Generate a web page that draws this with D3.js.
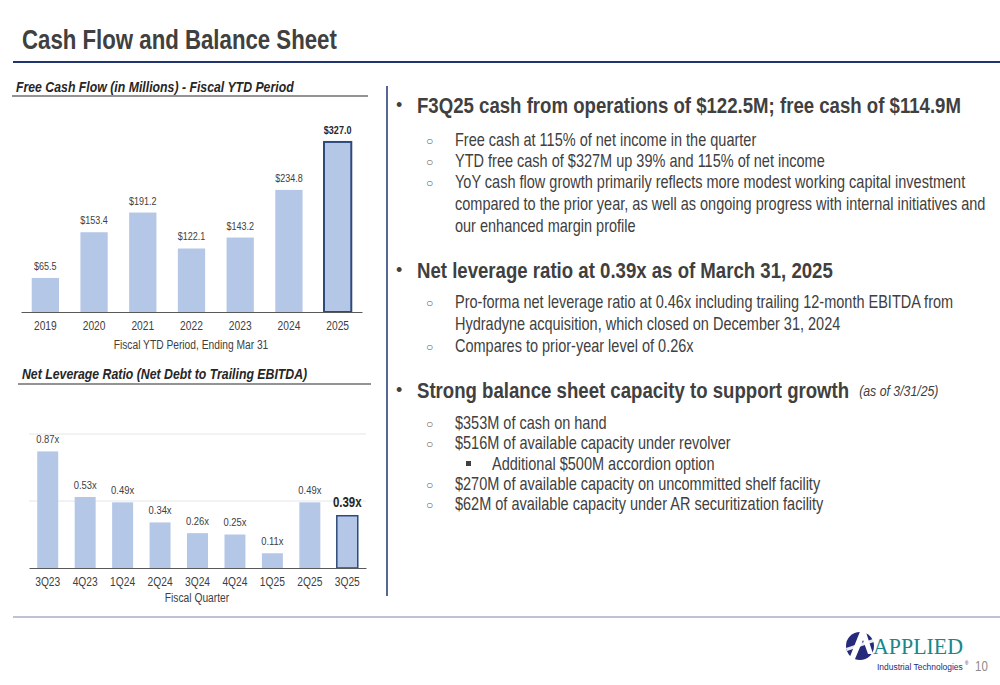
<!DOCTYPE html>
<html><head><meta charset="utf-8">
<script src="https://cdn.jsdelivr.net/npm/d3@7"></script>
<style>body{margin:0;background:#fff}svg{display:block}</style>
</head><body>
<svg id="s" width="1000" height="685"></svg>
<script>
const fcfYears = ["2019","2020","2021","2022","2023","2024","2025"];
const fcfValues = [65.5,153.4,191.2,122.1,143.2,234.8,327.0];
const fcfLabels = ["$65.5","$153.4","$191.2","$122.1","$143.2","$234.8","$327.0"];
const levQuarters = ["3Q23","4Q23","1Q24","2Q24","3Q24","4Q24","1Q25","2Q25","3Q25"];
const levValues = [0.87,0.53,0.49,0.34,0.26,0.25,0.11,0.49,0.39];
const levLabels = ["0.87x","0.53x","0.49x","0.34x","0.26x","0.25x","0.11x","0.49x","0.39x"];
const levGrid = [0.5,1.0];

const F = "'Liberation Sans','Arial',sans-serif";
const TXT = "#404040", BAR = "#b4c7e7", NAVY = "#1f3470", HL = "#2e4a7d";
const svg = d3.select("#s");

// condense text horizontally (Arial Narrow look) by scaling around its anchor point
function nar(sel, k){
  k = k || 0.82;
  sel.each(function(){
    const x = +this.getAttribute("x") || 0, y = +this.getAttribute("y") || 0;
    const prev = this.getAttribute("transform") || "";
    this.setAttribute("transform", prev + ` translate(${x},${y}) scale(${k},1) translate(${-x},${-y})`);
    this.__w = this.getComputedTextLength()*k;
  });
  return sel;
}

// Title
nar(svg.append("text").attr("x",22).attr("y",49).attr("font-family",F).attr("font-weight","bold")
  .attr("font-size",28.5).attr("fill",TXT).text("Cash Flow and Balance Sheet"),0.78);
svg.append("line").attr("x1",13).attr("x2",1000).attr("y1",62).attr("y2",62).attr("stroke",NAVY).attr("stroke-width",2);
// vertical separator
svg.append("line").attr("x1",387).attr("x2",387).attr("y1",86).attr("y2",596).attr("stroke",NAVY).attr("stroke-width",1.5);
// footer line
svg.append("line").attr("x1",13).attr("x2",1000).attr("y1",617).attr("y2",617).attr("stroke","#7a88aa").attr("stroke-width",1.2);

// ---- Chart 1
nar(svg.append("text").attr("x",16).attr("y",92).attr("font-family",F).attr("font-weight","bold").attr("font-style","italic")
  .attr("font-size",15).attr("fill","#262626").text("Free Cash Flow (in Millions) - Fiscal YTD Period"));
svg.append("line").attr("x1",12).attr("x2",368).attr("y1",96).attr("y2",96).attr("stroke","#262626").attr("stroke-width",1);

const x1 = d3.scaleBand().domain(fcfYears).range([21,362]).paddingInner(0.44).paddingOuter(0.22);
const y1 = d3.scaleLinear().domain([0,400]).range([312,104]);
const g1 = svg.append("g");
g1.selectAll("rect").data(fcfValues).join("rect")
  .attr("x",(d,i)=>x1(fcfYears[i])).attr("width",x1.bandwidth())
  .attr("y",d=>y1(d)).attr("height",d=>y1(0)-y1(d))
  .attr("fill",BAR)
  .attr("stroke",(d,i)=>i===fcfValues.length-1?HL:"none").attr("stroke-width",2);
nar(g1.selectAll("text.v").data(fcfValues).join("text").attr("class","v")
  .attr("x",(d,i)=>x1(fcfYears[i])+x1.bandwidth()/2).attr("y",d=>y1(d)-8)
  .attr("text-anchor","middle").attr("font-family",F).attr("font-size",11)
  .attr("font-weight",(d,i)=>i===fcfValues.length-1?"bold":"normal")
  .attr("fill",(d,i)=>i===fcfValues.length-1?"#262626":TXT).text((d,i)=>fcfLabels[i]));
const ax1 = g1.append("g").attr("transform","translate(0,312)").call(d3.axisBottom(x1).tickSize(0).tickPadding(9));
ax1.select(".domain").attr("stroke","#595959").attr("stroke-width",1.2);
nar(ax1.selectAll("text").attr("font-family",F).attr("font-size",12.5).attr("fill",TXT));
nar(g1.append("text").attr("x",191).attr("y",349).attr("text-anchor","middle").attr("font-family",F).attr("font-size",12.5)
  .attr("fill",TXT).text("Fiscal YTD Period, Ending Mar 31"));

// ---- Chart 2
nar(svg.append("text").attr("x",22).attr("y",379).attr("font-family",F).attr("font-weight","bold").attr("font-style","italic")
  .attr("font-size",15).attr("fill","#262626").text("Net Leverage Ratio (Net Debt to Trailing EBITDA)"));
svg.append("line").attr("x1",18).attr("x2",371).attr("y1",384).attr("y2",384).attr("stroke","#262626").attr("stroke-width",1);

const x2 = d3.scaleBand().domain(levQuarters).range([29,366]).paddingInner(0.44).paddingOuter(0.22);
const y2 = d3.scaleLinear().domain([0,1]).range([568,434]);
const g2 = svg.append("g");
g2.selectAll("line.g").data(levGrid).join("line").attr("class","g")
  .attr("x1",29).attr("x2",366).attr("y1",d=>y2(d)).attr("y2",d=>y2(d)).attr("stroke","#e6e6e6").attr("stroke-width",1);
g2.selectAll("rect").data(levValues).join("rect")
  .attr("x",(d,i)=>x2(levQuarters[i])).attr("width",x2.bandwidth())
  .attr("y",d=>y2(d)).attr("height",d=>y2(0)-y2(d))
  .attr("fill",BAR)
  .attr("stroke",(d,i)=>i===levValues.length-1?HL:"none").attr("stroke-width",1.5);
nar(g2.selectAll("text.v").data(levValues).join("text").attr("class","v")
  .attr("x",(d,i)=>x2(levQuarters[i])+x2.bandwidth()/2).attr("y",(d,i)=>y2(d)-(i===levValues.length-1?9:8))
  .attr("text-anchor","middle").attr("font-family",F)
  .attr("font-size",(d,i)=>i===levValues.length-1?14:11.5)
  .attr("font-weight",(d,i)=>i===levValues.length-1?"bold":"normal")
  .attr("fill",(d,i)=>i===levValues.length-1?"#262626":TXT).text((d,i)=>levLabels[i]));
const ax2 = g2.append("g").attr("transform","translate(0,568)").call(d3.axisBottom(x2).tickSize(0).tickPadding(9));
ax2.select(".domain").attr("stroke","#595959").attr("stroke-width",1.2);
nar(ax2.selectAll("text").attr("font-family",F).attr("font-size",12.5).attr("fill",TXT));
nar(g2.append("text").attr("x",197).attr("y",602).attr("text-anchor","middle").attr("font-family",F).attr("font-size",12.5)
  .attr("fill",TXT).text("Fiscal Quarter"));

// ---- Right text
const R = svg.append("g").attr("font-family",F).attr("fill",TXT);
function head(y, t, extra){
  R.append("text").attr("x",396).attr("y",y+6).attr("font-size",18).text("•");
  const tx = R.append("text").attr("x",417).attr("y",y+8).attr("font-size",22.7).attr("font-weight","bold").text(t);
  nar(tx);
  if(extra){
    const w = tx.node().__w;
    nar(R.append("text").attr("x",417+w+10).attr("y",y+6).attr("font-size",15).attr("font-style","italic").text(extra));
  }
}
function sub(y, t, bullet){
  if(bullet) R.append("text").attr("x",426).attr("y",y+5).attr("font-size",12).attr("fill","#595959").text("○");
  nar(R.append("text").attr("x",455).attr("y",y+6).attr("font-size",17.7).text(t));
}
head(105,"F3Q25 cash from operations of $122.5M; free cash of $114.9M");
sub(140,"Free cash at 115% of net income in the quarter",true);
sub(161,"YTD free cash of $327M up 39% and 115% of net income",true);
sub(182,"YoY cash flow growth primarily reflects more modest working capital investment",true);
sub(204,"compared to the prior year, as well as ongoing progress with internal initiatives and",false);
sub(226,"our enhanced margin profile",false);
head(270,"Net leverage ratio at 0.39x as of March 31, 2025");
sub(302,"Pro-forma net leverage ratio at 0.46x including trailing 12-month EBITDA from",true);
sub(324,"Hydradyne acquisition, which closed on December 31, 2024",false);
sub(346,"Compares to prior-year level of 0.26x",true);
head(390,"Strong balance sheet capacity to support growth","(as of 3/31/25)");
sub(423,"$353M of cash on hand",true);
sub(443,"$516M of available capacity under revolver",true);
R.append("rect").attr("x",466).attr("y",461).attr("width",5).attr("height",5).attr("fill",TXT);
nar(R.append("text").attr("x",492).attr("y",470).attr("font-size",17.7).text("Additional $500M accordion option"));
sub(484,"$270M of available capacity on uncommitted shelf facility",true);
sub(504,"$62M of available capacity under AR securitization facility",true);

// ---- Logo
const L = svg.append("g");
L.append("circle").attr("cx",860).attr("cy",646).attr("r",14).attr("fill","#262a7a");
L.append("path").attr("d","M849,659 L861,629 L865,629 L873,654 L868,654 L863,640 L855,659 Z").attr("fill","#fff");
L.append("path").attr("d","M846,648 L876,638 L877,641 L847,651 Z").attr("fill","#fff").attr("opacity",0.9);
const ap = L.append("text").attr("x",873).attr("y",654).attr("font-family","'Liberation Serif',serif").attr("font-size",24)
  .attr("fill","#17888c").text("APPLIED");
nar(ap, 90/ap.node().getComputedTextLength());
const it = L.append("text").attr("x",877).attr("y",670).attr("font-family","'Liberation Sans',sans-serif").attr("font-size",9)
  .attr("fill","#262a7a").text("Industrial Technologies");
nar(it, 86/it.node().getComputedTextLength());
L.append("text").attr("x",965).attr("y",665).attr("font-family","'Liberation Sans',sans-serif").attr("font-size",4.5)
  .attr("fill","#262a7a").text("®");
nar(L.append("text").attr("x",975).attr("y",671).attr("font-family",F).attr("font-size",14).attr("fill","#8c8c8c").text("10"));
</script>
</body></html>
